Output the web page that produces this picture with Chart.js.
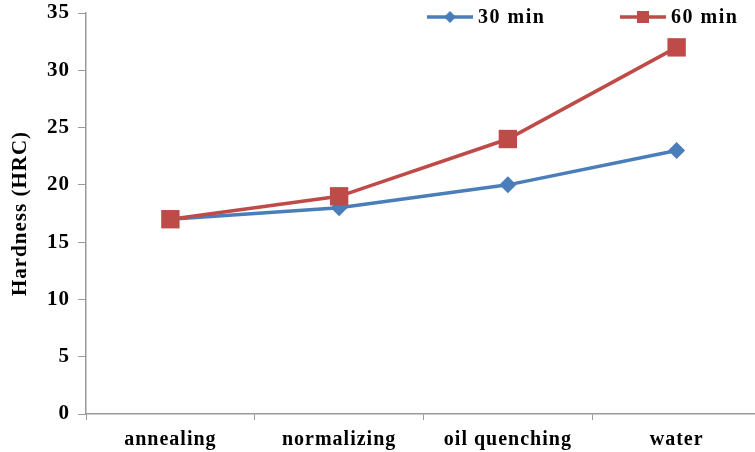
<!DOCTYPE html>
<html>
<head>
<meta charset="utf-8">
<script src="https://cdn.jsdelivr.net/npm/chart.js@4/dist/chart.umd.min.js"></script>
<style>
  html, body { margin: 0; padding: 0; background: #fff; overflow: hidden; }
</style>
</head>
<body>
<!-- the plot runs past the right edge of the picture, as in the original -->
<canvas id="hardnessChart" width="774" height="452"></canvas>
<script>
// categories and measured hardness values
const categories = ["annealing", "normalizing", "oil quenching", "water"];
const hardness30 = [17, 18, 20, 23];
const hardness60 = [17, 19, 24, 32];
const seriesNames = ["30 min", "60 min"];

const blue = "#4A7EBB";
const red = "#BE4B48";
const axisGray = "#9a9a9a";
const serif = "'Liberation Serif', 'Times New Roman', serif";

// the original text is set a little wide, so space the letters out
const wideText = {
  id: "wideText",
  beforeInit(chart) {
    chart.ctx.letterSpacing = "1px";
  },
  beforeDraw(chart) {
    chart.ctx.letterSpacing = "1px";
  },
};

// legend drawn inside the plot like the original (line + marker + text)
const lineLegend = {
  id: "lineLegend",
  afterDraw(chart) {
    const ctx = chart.ctx;
    const items = [
      { x: 427, name: seriesNames[0], color: blue, marker: "diamond" },
      { x: 620, name: seriesNames[1], color: red, marker: "square" },
    ];
    const y = 17;
    ctx.save();
    items.forEach((it) => {
      ctx.strokeStyle = it.color;
      ctx.lineWidth = 3.5;
      ctx.beginPath();
      ctx.moveTo(it.x, y);
      ctx.lineTo(it.x + 46, y);
      ctx.stroke();
      ctx.fillStyle = it.color;
      const cx = it.x + 23;
      ctx.beginPath();
      if (it.marker === "diamond") {
        ctx.moveTo(cx, y - 6);
        ctx.lineTo(cx + 6, y);
        ctx.lineTo(cx, y + 6);
        ctx.lineTo(cx - 6, y);
      } else {
        ctx.rect(cx - 6, y - 6, 12, 12);
      }
      ctx.fill();
      ctx.fillStyle = "#000";
      ctx.font = "bold 20px " + serif;
      ctx.textBaseline = "middle";
      ctx.letterSpacing = "1.5px";
      ctx.fillText(it.name, it.x + 51, y + 1);
    });
    ctx.restore();
  },
};

const ctx = document.getElementById("hardnessChart").getContext("2d");
new Chart(ctx, {
  type: "line",
  data: {
    labels: categories,
    datasets: [
      {
        label: seriesNames[0],
        data: hardness30,
        borderColor: blue,
        backgroundColor: blue,
        borderWidth: 3.5,
        pointStyle: "rectRot",
        pointRadius: 8.5,
        pointBorderWidth: 0,
        order: 1,
      },
      {
        label: seriesNames[1],
        data: hardness60,
        borderColor: red,
        backgroundColor: red,
        borderWidth: 3.5,
        pointStyle: "rect",
        pointRadius: 13,
        pointBorderWidth: 0,
        order: 0,
      },
    ],
  },
  options: {
    responsive: false,
    animation: false,
    layout: { padding: { top: 12, right: 0, bottom: -8, left: 0 } },
    plugins: {
      legend: { display: false },
      tooltip: { enabled: false },
    },
    scales: {
      x: {
        offset: true,
        grid: {
          offset: true,
          drawOnChartArea: false,
          tickLength: 6,
          color: axisGray,
        },
        border: { color: axisGray, width: 1.5 },
        ticks: {
          color: "#000",
          padding: 8,
          font: { family: serif, size: 20, weight: "bold" },
        },
      },
      y: {
        min: 0,
        max: 35,
        afterFit(scale) {
          scale.width = 86;
          scale.paddingTop = 0;
        },
        ticks: {
          stepSize: 5,
          color: "#000",
          padding: 8,
          font: { family: serif, size: 21, weight: "bold" },
        },
        grid: {
          drawOnChartArea: false,
          tickLength: 8,
          color: axisGray,
        },
        border: { color: axisGray, width: 1.5 },
        title: {
          display: true,
          text: "Hardness (HRC)",
          color: "#000",
          padding: { top: 8, bottom: 0 },
          font: { family: serif, size: 21, weight: "bold" },
        },
      },
    },
  },
  plugins: [wideText, lineLegend],
});
</script>
</body>
</html>
